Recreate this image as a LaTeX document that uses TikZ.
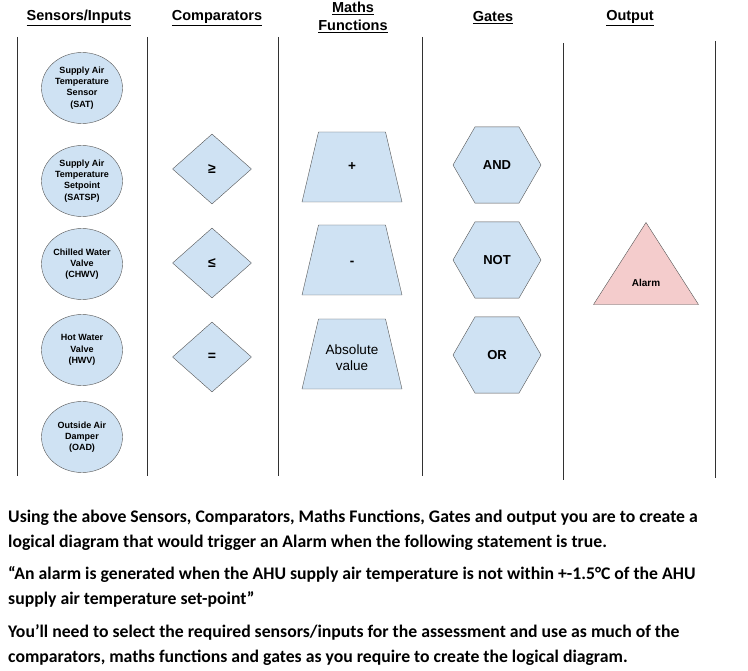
\documentclass[tikz,border=0pt]{standalone}
\usepackage{fontspec}
\setmainfont{Liberation Sans}
\newfontfamily\notefont{Carlito}
\usetikzlibrary{shapes.geometric, positioning}
\definecolor{paletteBlue}{RGB}{207, 226, 243}
\definecolor{palettePink}{RGB}{244, 204, 204}
\definecolor{paletteEdge}{RGB}{85, 85, 85}
\definecolor{paletteRule}{RGB}{50, 50, 50}

\begin{document}
\begin{tikzpicture}[x=1pt, y=-1pt,
            heading/.style={font=\fontsize{14.5}{18}\selectfont\bfseries, align=center},
            sensor/.style={ellipse, draw=paletteEdge, fill=paletteBlue, minimum width=81pt,
                           minimum height=71pt, inner sep=0pt, align=center,
                           font=\fontsize{9}{11.3}\selectfont\bfseries},
            compare/.style={diamond, draw=paletteEdge, fill=paletteBlue, minimum width=79pt,
                            minimum height=70pt, inner sep=0pt, font=\fontsize{14}{16}\selectfont\bfseries},
            mathfn/.style={draw=paletteEdge, fill=paletteBlue, line join=round},
            mathtext/.style={align=center, inner sep=0pt, font=\fontsize{13.5}{16}\selectfont},
            gate/.style={regular polygon, regular polygon sides=6, draw=paletteEdge, fill=paletteBlue,
                         minimum size=88pt, inner sep=0pt, font=\fontsize{13}{15}\selectfont\bfseries},
            output/.style={isosceles triangle, isosceles triangle stretches, shape border rotate=90,
                           draw=paletteEdge, fill=palettePink, minimum width=105pt, minimum height=82pt,
                           inner sep=0pt, font=\fontsize{10}{12}\selectfont\bfseries},
            rule/.style={draw=paletteRule, line width=1pt},
            note/.style={anchor=base west, align=left, inner sep=0pt,
                         font=\notefont\fontsize{17.7}{25}\selectfont\bfseries}
        ]
            \useasboundingbox (0,0) rectangle (748,671);

            % Column headings
            \node[heading] (hsensors) at (79,18) {\underline{Sensors/Inputs}};
            \node[heading] (hcompare) at (217,18) {\underline{Comparators}};
            \node[heading] (hmaths) at (353,17) {\underline{Maths}\\\underline{Functions}};
            \node[heading] (hgates) at (493,18) {\underline{Gates}};
            \node[heading] (houtput) at (630,18) {\underline{Output}};

            % Column rules
            \draw[rule] (17,37) -- (17,476);
            \draw[rule] (147,37) -- (147,476);
            \draw[rule] (278,37) -- (278,476);
            \draw[rule] (422,37) -- (422,476);
            \draw[rule] (563,43) -- (563,480);
            \draw[rule] (715,41) -- (715,478);

            % Sensors
            \node[sensor] (sat) at (82,88) {Supply Air\\Temperature\\Sensor\\(SAT)};
            \node[sensor] (satsp) at (82,181) {Supply Air\\Temperature\\Setpoint\\(SATSP)};
            \node[sensor] (chwv) at (82,264) {Chilled Water\\Valve\\(CHWV)};
            \node[sensor] (hwv) at (82,350) {Hot Water\\Valve\\(HWV)};
            \node[sensor] (oad) at (82,437) {Outside Air\\Damper\\(OAD)};

            % Comparators
            \node[compare] (geq) at (212,169) {≥};
            \node[compare] (leq) at (212,263) {≤};
            \node[compare] (eq) at (212,357) {=};

            % Maths functions
            \filldraw[mathfn] (318.5,132) -- (385.5,132) -- (402,202) -- (302,202) -- cycle;
            \node[mathtext] (plus) at (352,167) {\textbf{+}};
            \filldraw[mathfn] (318.5,225) -- (385.5,225) -- (402,295) -- (302,295) -- cycle;
            \node[mathtext] (minus) at (352,263) {\textbf{-}};
            \filldraw[mathfn] (318.5,319) -- (385.5,319) -- (402,389) -- (302,389) -- cycle;
            \node[mathtext] (absval) at (352,358) {Absolute\\value};

            % Gates
            \node[gate] (andgate) at (497,165) {AND};
            \node[gate] (notgate) at (497,260) {NOT};
            \node[gate] (orgate) at (497,355) {OR};

            % Output
            \node[output, anchor=apex] (alarm) at (646,222) {Alarm};

            % Task text
            \node[note] (task) at (8,547) {Using the above Sensors, Comparators, Maths Functions, Gates and output you are to create a\\logical diagram that would trigger an Alarm when the following statement is true.};
            \node[note] (quote) at (8,604) {“An alarm is generated when the AHU supply air temperature is not within +-1.5°C of the AHU\\supply air temperature set-point”};
            \node[note] (advice) at (8,662) {You’ll need to select the required sensors/inputs for the assessment and use as much of the\\comparators, maths functions and gates as you require to create the logical diagram.};
        \end{tikzpicture}
\end{document}
